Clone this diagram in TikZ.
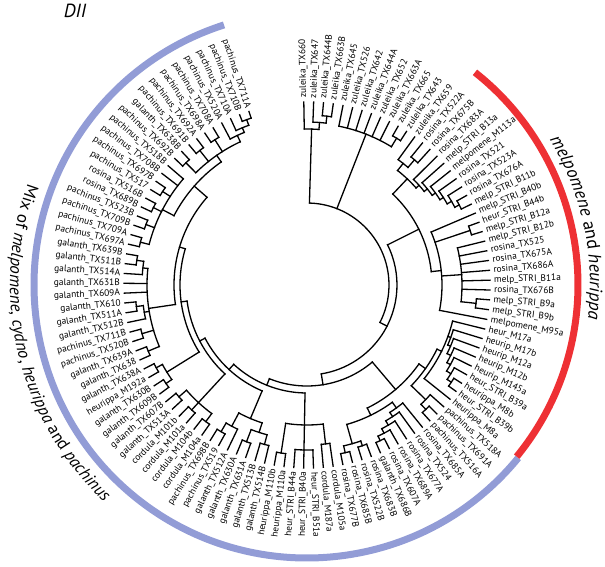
\documentclass[tikz,border=0pt]{standalone}
\usepackage{fontspec}
\setsansfont{PT Sans}
\usetikzlibrary{decorations.text}

\definecolor{cladeblue}{RGB}{146,156,214}
\definecolor{cladered}{RGB}{238,48,52}

\tikzset{
  branch/.style={line width=1.3pt, line cap=rect},
  taxon/.style={font=\sffamily\fontsize{9.4}{10}\selectfont, inner sep=0pt},
  band/.style={line width=7pt}
}
\newcommand{\curvefont}{\sffamily\fontsize{17}{18}\selectfont}
\newcommand{\sidefont}{\sffamily\fontsize{18}{20}\selectfont}

\begin{document}
\begin{tikzpicture}[x=1pt, y=1pt, font=\sffamily]
  \useasboundingbox (-307,-281) rectangle (298,285);

  % taxon labels, clockwise from the top
  \foreach \nm [count=\i from 0] in {zuleika\_TX660, zuleika\_TX647, zuleika\_TX644B,
    zuleika\_TX663B, zuleika\_TX645, zuleika\_TX526, zuleika\_TX642, zuleika\_TX644A,
    zuleika\_TX652, zuleika\_TX663A, zuleika\_TX665, zuleika\_TX643, zuleika\_TX659,
    rosina\_TX522A, rosina\_TX675B, rosina\_TX683A, melp\_STRI\_B13a, melpomene\_M113a,
    rosina\_TX521, rosina\_TX523A, rosina\_TX676A, melp\_STRI\_B11b, melp\_STRI\_B40b,
    heur\_STRI\_B44b, melp\_STRI\_B12a, melp\_STRI\_B12b, rosina\_TX525, rosina\_TX675A,
    rosina\_TX686A, melp\_STRI\_B11a, rosina\_TX676B, melp\_STRI\_B9a, melp\_STRI\_B9b,
    melpomene\_M95a, heur\_M17a, heurip\_M17b, heurip\_M12a, heurip\_M12b, heurip\_M145a,
    heur\_STRI\_B39a, heurippa\_M8b, heur\_STRI\_B39b, heurippa\_M8a, pachinus\_TX518A,
    pachinus\_TX691A, pachinus\_TX516A, rosina\_TX685A, rosina\_TX524, rosina\_TX677A,
    rosina\_TX689A, rosina\_TX607A, galanth\_TX686B, rosina\_TX683B, rosina\_TX522B,
    rosina\_TX685B, rosina\_TX677B, cordula\_M105a, cordula\_M187a, heur\_STRI\_B51a,
    heur\_STRI\_B40a, heur\_STRI\_B44a, heurippa\_M110a, heurippa\_M110b, galanth\_TX514B,
    galanth\_TX513B, galanth\_TX631A, galanth\_TX630A, galanth\_TX512A, pachinus\_TX519,
    pachinus\_TX698B, cordula\_M104a, cordula\_M104b, cordula\_M101a, cordula\_M101b,
    galanth\_TX513A, galanth\_TX607B, galanth\_TX609B, galanth\_TX630B, heurippa\_M192a,
    galanth\_TX638A, galanth\_TX638, galanth\_TX639A, pachinus\_TX520B, pachinus\_TX711B,
    galanth\_TX512B, galanth\_TX511A, galanth\_TX610, galanth\_TX609A, galanth\_TX631B,
    galanth\_TX514A, galanth\_TX511B, galanth\_TX639B, pachinus\_TX697A, pachinus\_TX709A,
    pachinus\_TX709B, pachinus\_TX523B, rosina\_TX689B, rosina\_TX516B, pachinus\_TX517,
    pachinus\_TX697B, pachinus\_TX708B, pachinus\_TX518B, pachinus\_TX692B, galanth\_TX638B,
    pachinus\_TX691B, pachinus\_TX692A, pachinus\_TX698A, pachinus\_TX708A, pachinus\_TX520A,
    pachinus\_TX710A, pachinus\_TX710B, pachinus\_TX711A} {
    \pgfmathsetmacro\a{91-3.0856*\i}
    \ifdim\a pt<-90pt
      \node[taxon, anchor=east, rotate=\a+180] (tx\i) at (\a:187) {\nm};
    \else
      \node[taxon, anchor=west, rotate=\a] (tx\i) at (\a:187) {\nm};
    \fi
  }

  % terminal branches: leaf / radius of its parent
  \foreach \i/\p in {0/156, 1/163, 2/170, 3/170, 4/162, 5/162, 6/162, 7/162, 8/162,
      9/162, 10/172, 11/172, 12/155, 13/165, 14/165, 15/150, 16/154, 17/158, 18/162,
      19/167, 20/172, 21/172, 22/135, 23/172, 24/172, 25/155, 26/155, 27/155, 28/155,
      29/155, 30/155, 31/170, 32/170, 33/135, 34/150, 35/153, 36/156, 37/160, 38/164,
      39/169, 40/174, 41/174, 42/150, 43/165, 44/172, 45/172, 46/152, 47/157, 48/162,
      49/167, 50/172, 51/172, 52/170, 53/170, 54/172, 55/172, 56/160, 57/160, 58/165,
      59/165, 60/165, 61/170, 62/170, 63/165, 64/165, 65/168, 66/168, 67/160, 68/170,
      69/170, 70/170, 71/170, 72/170, 73/170, 74/170, 75/170, 76/172, 77/172, 78/172,
      79/172, 80/172, 81/172, 82/172, 83/172, 84/165, 85/172, 86/172, 87/160, 88/160,
      89/165, 90/172, 91/172, 92/172, 93/172, 94/172, 95/172, 96/172, 97/172, 98/172,
      99/172, 100/163, 101/163, 102/172, 103/172, 104/172, 105/172, 106/172, 107/172,
      108/165, 109/170, 110/176, 111/176}
    \draw[branch] ({91-3.0856*\i}:\p) -- ({91-3.0856*\i}:183);

  % clades: first child / last child / radius / stem / radius of parent
  \foreach \f/\l/\r/\m/\p in {2/3/170/2.5/163, 1/2.5/163/1.75/156, 0/1.75/156/0.875/82,
      10/11/172/10.5/162, 4/10.5/162/7.25/82,
      13/14/165/13.5/155, 12/13.5/155/12.75/146,
      20/21/172/20.5/167, 19/20.5/167/19.75/162, 18/19.75/162/18.9/158,
      17/18.9/158/17.95/154, 16/17.95/154/16.98/150, 15/16.98/150/15.99/146,
      12.75/15.99/146/14.37/125,
      23/24/172/23.5/135, 31/32/170/31.5/155, 25/31.5/155/28.25/135, 22/33/135/27.5/125,
      14.37/27.5/125/20.9/90,
      40/41/174/40.5/169, 39/40.5/169/39.75/164, 38/39.75/164/38.9/160,
      37/38.9/160/37.95/156, 36/37.95/156/36.98/153, 35/36.98/153/35.99/150,
      34/42/150/38/145, 44/45/172/44.5/165, 43/44.5/165/43.75/145,
      38/43.75/145/40.9/137,
      50/51/172/50.5/167, 49/50.5/167/49.75/162, 48/49.75/162/48.9/157,
      47/48.9/157/47.95/152, 46/47.95/152/46.98/145,
      52/53/170/52.5/165, 54/55/172/54.5/165, 52.5/54.5/165/53.5/145,
      46.98/53.5/145/50.2/137, 40.9/50.2/137/45.6/101,
      56/57/160/56.5/140, 58/60/165/59/140, 61/62/170/61.5/140, 56.5/61.5/140/59/108,
      63/64/165/63.5/155, 65/66/168/65.5/155, 63.5/65.5/155/64.5/145,
      68/69/170/68.5/160, 67/68.5/160/67.75/145, 64.5/67.75/145/66.1/115,
      70/71/170/70.5/160, 72/73/170/72.5/160, 74/75/170/74.5/160, 70.5/74.5/160/72.5/121,
      76/77/172/76.5/165, 78/79/172/78.5/165, 76.5/78.5/165/77.5/127,
      80/81/172/80.5/160, 82/83/172/82.5/160, 85/86/172/85.5/165, 84/85.5/165/84.75/160,
      90/91/172/90.5/165, 89/90.5/165/89.75/160, 80.5/89.75/160/85.1/133,
      92/93/172/92.5/163, 94/95/172/94.5/163, 96/97/172/96.5/163, 98/99/172/98.5/163,
      92.5/101/163/96.75/150,
      102/103/172/102.5/158, 104/105/172/104.5/158, 106/107/172/106.5/158,
      110/111/176/110.5/170, 109/110.5/170/109.75/165, 108/109.75/165/108.9/158,
      102.5/108.9/158/105.7/150, 96.75/105.7/150/101.2/133,
      85.1/101.2/133/93.2/127, 77.5/93.2/127/85.35/121, 72.5/85.35/121/78.9/115,
      66.1/78.9/115/72.5/108, 59/72.5/108/65.75/101, 45.6/65.75/101/55.7/90,
      20.9/55.7/90/38.3/82, 0.875/38.3/82/0.875/82} {
    \draw[branch] ({91-3.0856*\f}:\r) arc[start angle={91-3.0856*\f},
      end angle={91-3.0856*\l}, radius=\r];
    \draw[branch] ({91-3.0856*\m}:\r) -- ({91-3.0856*\m}:\p);
  }

  % group bands
  \draw[band, cladeblue] (-39.3:273) arc[start angle=-39.3, end angle=-252.3, radius=273];
  \draw[band, cladered] (51.7:271) arc[start angle=51.7, end angle=-39.3, radius=271];

  \node[font=\sffamily\itshape\fontsize{19}{20}\selectfont] (dii) at (-232,274) {DII};

  \path[decorate, decoration={text along path, text align=left,
      text={|\curvefont|Mix of |\curvefont\itshape|melpomene|\curvefont|,
      |\curvefont\itshape|cydno|\curvefont|, |\curvefont\itshape|heurippa|\curvefont|
      and |\curvefont\itshape|pachinus}}]
    (160:297) arc[start angle=160, end angle=245, radius=297];
  \path[decorate, decoration={text along path, text align=left,
      text={|\sidefont\itshape|melpomene|\sidefont| and |\sidefont\itshape|heurippa}}]
    (31:283) arc[start angle=31, end angle=-35, radius=283];
\end{tikzpicture}
\end{document}
